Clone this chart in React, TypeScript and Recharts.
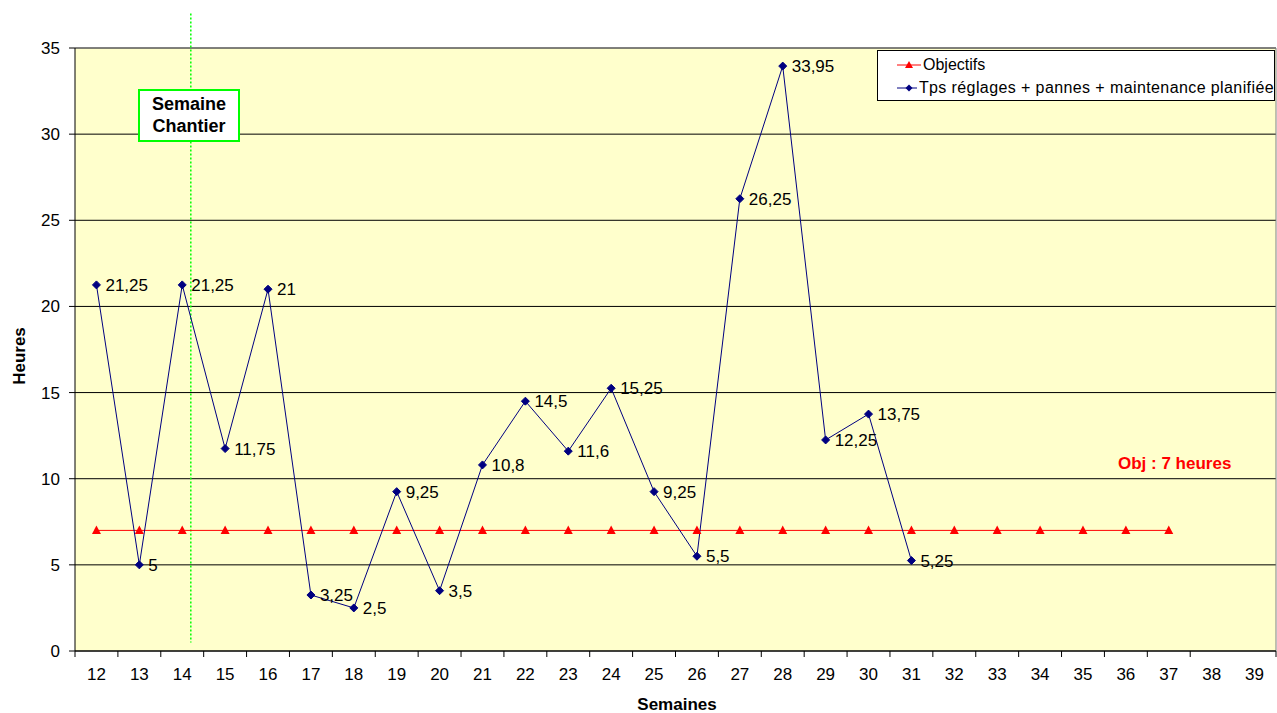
import React from "react";
import {
  LineChart,
  Line,
  XAxis,
  YAxis,
  CartesianGrid,
  ReferenceLine,
} from "recharts";

const FONT = "'Liberation Sans', Arial, sans-serif";
const NAVY = "#000080";
const RED = "#FF0000";
const PLOT_BG = "#FFFFCC";
const GREEN = "#00FF00";

// semaines 12 .. 39
const weeks = [12, 13, 14, 15, 16, 17, 18, 19, 20, 21, 22, 23, 24, 25, 26, 27, 28, 29, 30, 31, 32, 33, 34, 35, 36, 37, 38, 39];
const tpsHours = [21.25, 5, 21.25, 11.75, 21, 3.25, 2.5, 9.25, 3.5, 10.8, 14.5, 11.6, 15.25, 9.25, 5.5, 26.25, 33.95, 12.25, 13.75, 5.25, null, null, null, null, null, null, null, null];
const objectifs = [7, 7, 7, 7, 7, 7, 7, 7, 7, 7, 7, 7, 7, 7, 7, 7, 7, 7, 7, 7, 7, 7, 7, 7, 7, 7, null, null];
const yTicks = [0, 5, 10, 15, 20, 25, 30, 35];
const chantierWeek = 14.2;

const data = weeks.map((w, i) => ({ week: w, tps: tpsHours[i], obj: objectifs[i] }));
const boundaries = [...weeks.map((w) => w - 0.5), weeks[weeks.length - 1] + 0.5];
const xDomain = [boundaries[0], boundaries[boundaries.length - 1]];

function Diamond(props: any) {
  const { cx, cy, value } = props;
  if (value == null || cx == null) return <g />;
  const s = 4;
  return <polygon points={`${cx},${cy - s} ${cx + s},${cy} ${cx},${cy + s} ${cx - s},${cy}`} fill={NAVY} stroke={NAVY} />;
}

function Triangle(props: any) {
  const { cx, cy, value } = props;
  if (value == null || cx == null) return <g />;
  return <polygon points={`${cx},${cy - 5} ${cx + 4.5},${cy + 3.5} ${cx - 4.5},${cy + 3.5}`} fill={RED} />;
}

function valueLabel(props: any) {
  const { x, y, value } = props;
  if (value == null) return null;
  return (
    <text x={x + 9} y={y + 6} fontSize={17} fontFamily={FONT} fill="#000">
      {String(value).replace(".", ",")}
    </text>
  );
}

function LegendIcon({ color, kind }: { color: string; kind: string }) {
  return (
    <svg width={24} height={10} style={{ marginRight: 2 }}>
      <line x1={0} y1={5} x2={24} y2={5} stroke={color} strokeWidth={1} />
      {kind === "tri" ? (
        <polygon points="12,1 16,8 8,8" fill={color} />
      ) : (
        <polygon points="12,1.5 15.5,5 12,8.5 8.5,5" fill={color} />
      )}
    </svg>
  );
}

export default function App() {
  return (
    <div style={{ position: "absolute", left: 0, top: 0, width: 1277, height: 713, background: "#fff", fontFamily: FONT }}>
      <LineChart width={1277} height={713} data={data} margin={{ top: 48, right: 1, left: 15, bottom: 16 }}>
        <CartesianGrid fill={PLOT_BG} stroke="#000" vertical={false} />
        <XAxis
          type="number"
          dataKey="week"
          domain={xDomain}
          ticks={boundaries}
          height={6}
          tickSize={6}
          tick={() => <g />}
          axisLine={{ stroke: "#000" }}
          tickLine={{ stroke: "#000" }}
        />
        <XAxis
          xAxisId="labels"
          type="number"
          dataKey="week"
          domain={xDomain}
          ticks={weeks}
          height={40}
          tickSize={0}
          tickMargin={11}
          axisLine={false}
          tickLine={false}
          tick={{ fontSize: 17, fill: "#000", fontFamily: FONT }}
        />
        <YAxis
          type="number"
          domain={[0, 35]}
          ticks={yTicks}
          width={60}
          tickSize={6}
          tickMargin={9}
          axisLine={{ stroke: "#000" }}
          tickLine={{ stroke: "#000" }}
          tick={{ fontSize: 17, fill: "#000", fontFamily: FONT }}
        />
        <ReferenceLine y={35} stroke="#808080" />
        <ReferenceLine x={xDomain[1]} stroke="#808080" />
        <ReferenceLine
          segment={[{ x: chantierWeek, y: 37 }, { x: chantierWeek, y: 0.5 }]}
          stroke={GREEN}
          strokeWidth={1.5}
          strokeDasharray="2 2"
          ifOverflow="visible"
        />
        <Line
          dataKey="obj"
          stroke={RED}
          strokeWidth={1}
          dot={<Triangle />}
          activeDot={false}
          isAnimationActive={false}
        />
        <Line
          dataKey="tps"
          stroke={NAVY}
          strokeWidth={1}
          dot={<Diamond />}
          activeDot={false}
          label={valueLabel}
          isAnimationActive={false}
        />
      </LineChart>

      <div
        style={{
          position: "absolute",
          left: 877,
          top: 50,
          width: 398,
          height: 51,
          border: "1px solid #000",
          background: "#fff",
          fontSize: 16,
          boxSizing: "border-box",
          paddingLeft: 19,
          paddingTop: 3,
        }}
      >
        <div style={{ display: "flex", alignItems: "center", height: 22 }}>
          <LegendIcon color={RED} kind="tri" />
          <span>Objectifs</span>
        </div>
        <div style={{ display: "flex", alignItems: "center", height: 24 }}>
          <LegendIcon color={NAVY} kind="dia" />
          <span style={{ whiteSpace: "nowrap", letterSpacing: 0.4 }}>Tps réglages + pannes + maintenance planifiée</span>
        </div>
      </div>

      <div
        style={{
          position: "absolute",
          left: 138,
          top: 89,
          width: 102,
          height: 53,
          boxSizing: "border-box",
          border: `2px solid ${GREEN}`,
          background: "#fff",
          fontWeight: "bold",
          fontSize: 18,
          lineHeight: "22px",
          textAlign: "center",
          paddingTop: 2,
        }}
      >
        Semaine
        <br />
        Chantier
      </div>

      <div style={{ position: "absolute", left: 1118, top: 454, fontSize: 17, fontWeight: "bold", color: RED }}>
        Obj : 7 heures
      </div>

      <div
        style={{
          position: "absolute",
          left: 20,
          top: 356,
          fontSize: 17,
          fontWeight: "bold",
          transform: "translate(-50%, -50%) rotate(-90deg)",
          whiteSpace: "nowrap",
        }}
      >
        Heures
      </div>

      <div
        style={{
          position: "absolute",
          left: 677,
          top: 695,
          fontSize: 17,
          fontWeight: "bold",
          transform: "translateX(-50%)",
        }}
      >
        Semaines
      </div>
    </div>
  );
}
